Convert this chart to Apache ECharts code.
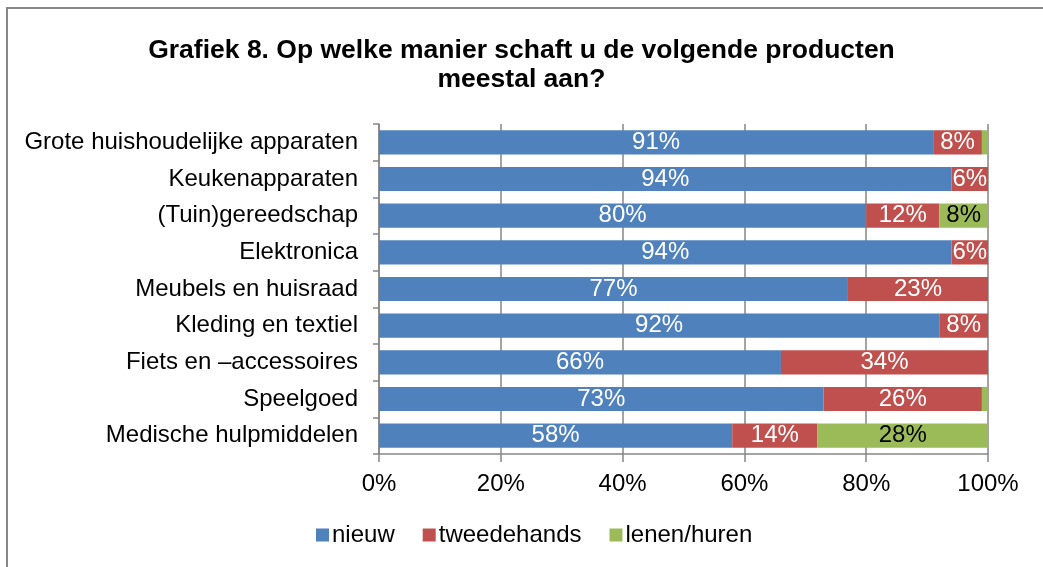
<!DOCTYPE html>
<html>
<head>
<meta charset="utf-8">
<script src="https://cdn.jsdelivr.net/npm/echarts@6/dist/echarts.min.js"></script>
<style>
  html, body { margin: 0; padding: 0; background: #fff; }
  #container { width: 1043px; height: 567px; }
</style>
</head>
<body>
<div id="container"></div>
<script>
var categories = [
  'Grote huishoudelijke apparaten',
  'Keukenapparaten',
  '(Tuin)gereedschap',
  'Elektronica',
  'Meubels en huisraad',
  'Kleding en textiel',
  'Fiets en \u2013accessoires',
  'Speelgoed',
  'Medische hulpmiddelen'
];
var nieuw = [91, 94, 80, 94, 77, 92, 66, 73, 58];
var tweedehands = [8, 6, 12, 6, 23, 8, 34, 26, 14];
var lenenHuren = [1, 0, 8, 0, 0, 0, 0, 1, 28];
var xTicks = [0, 20, 40, 60, 80, 100];

var dom = document.getElementById('container');
var myChart = echarts.init(dom, null, { renderer: 'canvas' });

var font = 'Arial, "Liberation Sans", sans-serif';
var gray = '#868686';

function pctLabel(color) {
  return {
    show: true,
    position: 'inside',
    color: color,
    fontFamily: font,
    fontSize: 24,
    formatter: function (p) {
      return p.value >= 2 ? p.value + '%' : '';
    }
  };
}

var option = {
  animation: false,
  textStyle: { fontFamily: font },
  graphic: [{
    type: 'rect',
    shape: { x: 7, y: 8, width: 1200, height: 700 },
    style: { fill: 'none', stroke: gray, lineWidth: 2 },
    silent: true
  }],
  title: {
    text: 'Grafiek 8. Op welke manier schaft u de volgende producten\nmeestal aan?',
    left: 'center',
    top: 31,
    textStyle: {
      fontFamily: font,
      fontSize: 26.5,
      fontWeight: 'bold',
      color: '#000',
      lineHeight: 29,
      align: 'center'
    }
  },
  legend: {
    bottom: 15,
    left: 311,
    itemWidth: 13,
    itemHeight: 13,
    itemGap: 28,
    icon: 'rect',
    textStyle: { fontFamily: font, fontSize: 24, color: '#000', padding: [0, 0, 0, -2] },
    data: ['nieuw', 'tweedehands', 'lenen/huren']
  },
  grid: {
    left: 379,
    right: 55,
    top: 124,
    bottom: 113,
    containLabel: false
  },
  xAxis: {
    type: 'value',
    min: 0,
    max: 100,
    interval: 20,
    axisLine: { show: true, lineStyle: { color: gray, width: 1.5 } },
    axisTick: { show: true, length: 8, lineStyle: { color: gray, width: 1.5 } },
    splitLine: { show: true, lineStyle: { color: gray, width: 1.5 } },
    axisLabel: {
      color: '#000',
      fontFamily: font,
      fontSize: 24,
      margin: 18,
      formatter: function (v) { return xTicks.indexOf(v) >= 0 ? v + '%' : ''; }
    }
  },
  yAxis: {
    type: 'category',
    inverse: true,
    data: categories,
    axisLine: { show: true, lineStyle: { color: gray, width: 1.5 } },
    axisTick: { show: true, length: 6, lineStyle: { color: gray, width: 1.5 } },
    axisLabel: {
      color: '#000',
      fontFamily: font,
      fontSize: 24,
      margin: 21
    }
  },
  series: [
    {
      name: 'nieuw',
      type: 'bar',
      stack: 'total',
      barWidth: '66%',
      itemStyle: { color: '#4F81BD' },
      label: pctLabel('#fff'),
      data: nieuw
    },
    {
      name: 'tweedehands',
      type: 'bar',
      stack: 'total',
      itemStyle: { color: '#C0504D' },
      label: pctLabel('#fff'),
      data: tweedehands
    },
    {
      name: 'lenen/huren',
      type: 'bar',
      stack: 'total',
      itemStyle: { color: '#9BBB59' },
      label: pctLabel('#000'),
      data: lenenHuren
    }
  ]
};

myChart.setOption(option);
window.addEventListener('resize', myChart.resize);
</script>
</body>
</html>
